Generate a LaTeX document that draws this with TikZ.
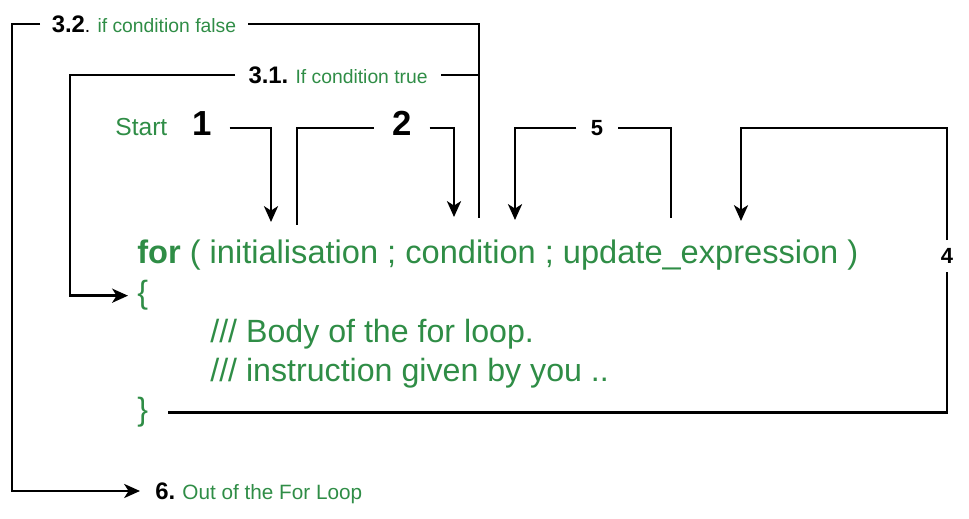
\documentclass[tikz,border=0pt]{standalone}
\usepackage{fontspec}
\setmainfont{Liberation Sans}
\usetikzlibrary{arrows.meta}
\definecolor{gfggreen}{RGB}{47,141,70}

\begin{document}
\begin{tikzpicture}[line join=miter,>={Stealth[length=9pt,width=8pt,inset=2.5pt]},x=0.02cm,y=-0.02cm,
  wire/.style={line width=1.45pt},
  code/.style={anchor=base west,inner sep=0pt,text=gfggreen,font=\fontsize{18.3}{22}\selectfont},
  lbl/.style={anchor=west,inner ysep=0pt,text depth=0pt,font=\fontsize{11}{13}\selectfont},
  bignum/.style={inner xsep=10pt,inner ysep=0pt,text depth=5pt,font=\fontsize{19.8}{24}\selectfont\bfseries},
  smallnum/.style={inner xsep=8pt,inner ysep=4.5pt,font=\fontsize{12.5}{15}\selectfont\bfseries}]
      \useasboundingbox (0,0) rectangle (969,519);
      % the loop header and body
      \node[code,font=\fontsize{18.55}{22}\selectfont] (head) at (137,264) {\textbf{for} ( initialisation ; condition ; update\_expression )};
      \node[code] (open) at (137,304) {\{};
      \node[code] (body) at (210,343) {/// Body of the for loop.};
      \node[code] (instr) at (210,382) {/// instruction given by you ..};
      \node[code] (close) at (137,421) {\}};
      % step labels
      \node[lbl,inner xsep=6.5pt] (lFalse) at (40,24) {{\fontsize{13.6}{16}\selectfont\bfseries 3.2}. \textcolor{gfggreen}{if condition false}};
      \node[lbl,inner xsep=7.5pt] (lTrue) at (235,75) {{\fontsize{13.6}{16}\selectfont\bfseries 3.1.} \textcolor{gfggreen}{If condition true}};
      \node[lbl,inner sep=0pt,text=gfggreen,font=\fontsize{14}{16}\selectfont] (start) at (115,127) {Start};
      \node[bignum] (one) at (202,128) {1};
      \node[bignum] (two) at (402,128) {2};
      \node[smallnum] (five) at (597,128) {5};
      \node[smallnum] (four) at (947,256) {4};
      \node[lbl,inner xsep=8.5pt] (lOut) at (140,491) {{\fontsize{13.6}{16}\selectfont\bfseries 6.} \textcolor{gfggreen}{\fontsize{11.8}{14}\selectfont Out of the For Loop}};
      % ends of the connectors above the header
      \coordinate (pInitIn) at (271,222);
      \coordinate (pInitOut) at (297,225);
      \coordinate (pCondIn) at (454,217);
      \coordinate (pCondOut) at (479,218);
      \coordinate (pUpdIn) at (515,220);
      \coordinate (pUpdOut) at (671,218);
      \coordinate (pBodyIn) at (741,221);
      \coordinate (falseTurn) at (12,24);
      \coordinate (trueTurn) at (70,75);
      \coordinate (bodyTurn) at (741,128);
      % connectors
      \draw[wire,->] (one.east) -| (pInitIn);
      \draw[wire] (pInitOut) |- (two.west);
      \draw[wire,->] (two.east) -| (pCondIn);
      \draw[wire] (pCondOut) |- (lFalse.east);
      \draw[wire,->] (lFalse.west) -- (lFalse.west -| falseTurn) |- (lOut.west);
      \draw[wire] (pCondOut |- lTrue.east) -- (lTrue.east);
      \draw[wire,->] (lTrue.west) -- (lTrue.west -| trueTurn) |- ([shift={(-9,0)}]open.west);
      \draw[wire] (pUpdOut) |- (five.east);
      \draw[wire,->] (five.west) -| (pUpdIn);
      \draw[wire] ([shift={(20,0)}]close.east) -| (four.south);
      \draw[wire,->] (four.north) |- (bodyTurn) -- (pBodyIn);
\end{tikzpicture}
\end{document}
